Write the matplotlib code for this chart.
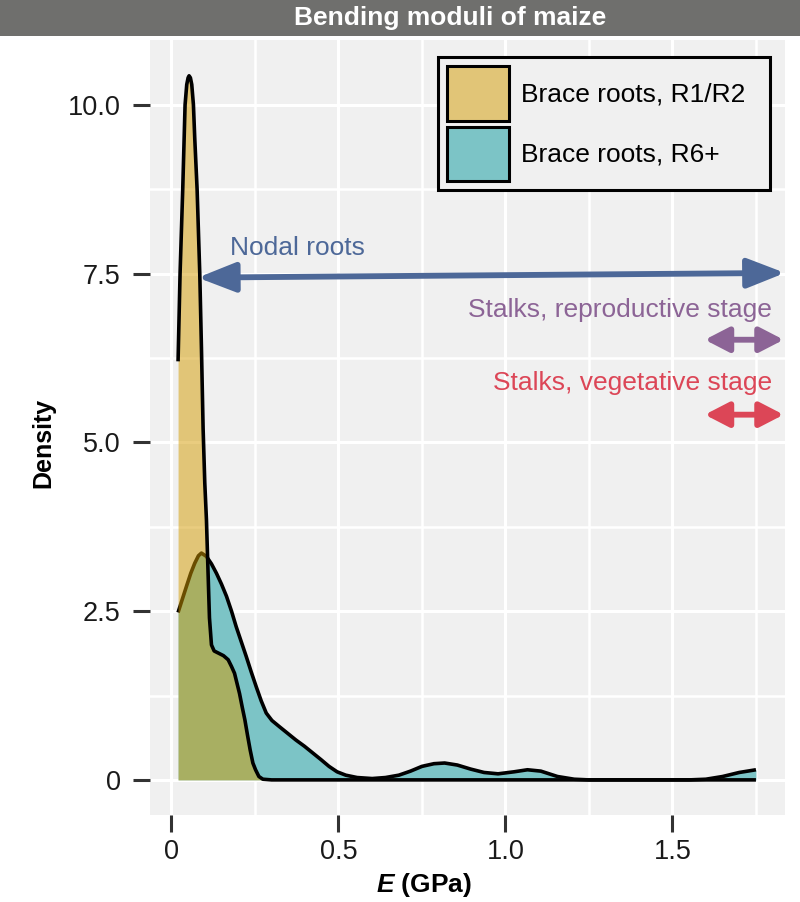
import matplotlib
matplotlib.use("Agg")
import matplotlib.pyplot as plt
from matplotlib.patches import Patch, Rectangle
from matplotlib.colors import to_rgba

plt.rcParams['font.family'] = ['Liberation Sans', 'DejaVu Sans']
plt.rcParams['mathtext.fontset'] = 'custom'
plt.rcParams['mathtext.it'] = 'Liberation Sans:bold:italic'
plt.rcParams['mathtext.rm'] = 'Liberation Sans:bold'

# density curve, brace roots R1/R2
e_r12 = [0.020, 0.026, 0.034, 0.041, 0.046, 0.050, 0.053, 0.057, 0.061, 0.066, 0.070,
         0.077, 0.085, 0.090, 0.095, 0.100, 0.105, 0.109, 0.114, 0.120, 0.128, 0.140,
         0.156, 0.170, 0.180, 0.189, 0.197, 0.204, 0.212, 0.220, 0.228, 0.236, 0.244,
         0.252, 0.262, 0.274, 0.300, 0.600, 1.000, 1.400, 1.750]
d_r12 = [6.20, 7.50, 8.75, 10.0, 10.30, 10.40, 10.43, 10.40, 10.30, 10.00, 9.50,
         8.75, 7.50, 6.40, 5.20, 4.40, 3.85, 3.20, 2.40, 2.00, 1.91, 1.88,
         1.84, 1.78, 1.68, 1.58, 1.42, 1.28, 1.08, 0.89, 0.66, 0.44, 0.25,
         0.15, 0.05, 0.01, 0.0, 0.0, 0.0, 0.0, 0.0]

# density curve, brace roots R6+
e_r6 = [0.020, 0.031, 0.046, 0.058, 0.070, 0.081, 0.090, 0.105, 0.120, 0.135, 0.150,
        0.165, 0.180, 0.194, 0.209, 0.224, 0.239, 0.254, 0.269, 0.284, 0.301, 0.323,
        0.348, 0.373, 0.398, 0.423, 0.448, 0.472, 0.496, 0.522, 0.556, 0.601, 0.641,
        0.681, 0.716, 0.750, 0.786, 0.818, 0.856, 0.896, 0.936, 0.978, 1.026, 1.066,
        1.106, 1.156, 1.206, 1.250, 1.550, 1.600, 1.650, 1.700, 1.750]
d_r6 = [2.48, 2.65, 2.88, 3.06, 3.21, 3.32, 3.36, 3.31, 3.20, 3.06, 2.90,
        2.72, 2.50, 2.27, 2.05, 1.83, 1.60, 1.38, 1.17, 0.99, 0.88, 0.79,
        0.69, 0.59, 0.50, 0.40, 0.30, 0.20, 0.12, 0.07, 0.035, 0.02, 0.035,
        0.07, 0.13, 0.20, 0.24, 0.25, 0.22, 0.16, 0.11, 0.09, 0.12, 0.15,
        0.13, 0.05, 0.01, 0.0, 0.0, 0.01, 0.05, 0.11, 0.15]

legend_labels = ["Brace roots, R1/R2", "Brace roots, R6+"]
x_ticks = [0, 0.5, 1.0, 1.5]
x_ticklabels = ["0", "0.5", "1.0", "1.5"]
y_ticks = [0, 2.5, 5.0, 7.5, 10.0]
y_ticklabels = ["0", "2.5", "5.0", "7.5", "10.0"]

# ranges of the other tissues (arrows)
nodal_x = [0.079, 1.837]
nodal_y = [7.44, 7.51]
repro_x = [1.597, 1.833]
repro_y = 6.52
veg_x = [1.597, 1.833]
veg_y = 5.41

YEL = "#D49B00"
TEAL = "#7CC4C6"
PANEL = "#F0F0F0"
BLUE = "#4D6898"
PURPLE = "#8C6496"
RED = "#DC4657"

fig = plt.figure(figsize=(8, 9.02), dpi=100)
ax = fig.add_axes([150/800, 1-815/902, 635/800, 775/902])
ax.set_facecolor(PANEL)
for s in ax.spines.values():
    s.set_visible(False)

ax.set_xlim(-0.064, 1.837)
ax.set_ylim(-0.52, 10.96)
ax.set_xticks(x_ticks)
ax.set_xticklabels(x_ticklabels)
ax.set_yticks(y_ticks)
ax.set_yticklabels(y_ticklabels)
ax.set_xticks([0.25, 0.75, 1.25, 1.75], minor=True)
ax.set_yticks([1.25, 3.75, 6.25, 8.75], minor=True)
ax.grid(True, which='major', color='white', lw=2.2)
ax.grid(True, which='minor', color='white', lw=1.8)
ax.set_axisbelow(True)
ax.tick_params(which='major', length=12.5, width=2.2, color='#333333',
               labelsize=19.5, labelcolor='#1a1a1a')
ax.tick_params(axis='y', pad=8.5)
ax.tick_params(axis='x', pad=5)
ax.tick_params(which='minor', length=0)

# densities
ax.fill_between(e_r6, 0, d_r6, color=TEAL, lw=0, zorder=2)
ax.plot(e_r6, d_r6, color='black', lw=2.6, zorder=2.1, solid_capstyle='butt')
ax.fill_between(e_r12, 0, d_r12, color=to_rgba(YEL, 0.5), lw=0, zorder=2.2)
ax.plot(e_r12, d_r12, color='black', lw=2.6, zorder=2.3, solid_capstyle='butt')

# arrows
def darrow(x, y, color, head_w, head_l, lw=4.2):
    ax.annotate("", xy=(x[1], y[1]), xytext=(x[0], y[0]),
                arrowprops=dict(arrowstyle=f"<|-|>,head_width={head_w},head_length={head_l}",
                                color=color, lw=lw, shrinkA=0, shrinkB=0, mutation_scale=10),
                annotation_clip=False, zorder=4)

darrow(nodal_x, nodal_y, BLUE, 0.9, 2.3)
darrow(repro_x, [repro_y, repro_y], PURPLE, 0.75, 1.45)
darrow(veg_x, [veg_y, veg_y], RED, 0.75, 1.45)

ax.text(0.175, 7.88, "Nodal roots", color=BLUE, fontsize=19, ha='left', va='center')
ax.text(1.798, 6.96, "Stalks, reproductive stage", color=PURPLE, fontsize=19, ha='right', va='center')
ax.text(1.798, 5.88, "Stalks, vegetative stage", color=RED, fontsize=19, ha='right', va='center')

handles = [Patch(facecolor=to_rgba(YEL, 0.5), edgecolor='black', lw=2.2),
           Patch(facecolor=TEAL, edgecolor='black', lw=2.2)]
leg = ax.legend(handles, legend_labels, loc='upper left',
                bbox_to_anchor=(0.4535, 0.0, 0.5229, 0.978), mode='expand',
                borderaxespad=0, fontsize=19, handlelength=2.35, handleheight=2.8,
                handletextpad=0.45, labelspacing=0.22, borderpad=0.35,
                frameon=True, fancybox=False, facecolor=PANEL, edgecolor='black', framealpha=1)
leg.get_frame().set_linewidth(2.2)

# title strip
fig.patches.append(Rectangle((0, 1-36/902), 1, 36/902, transform=fig.transFigure,
                             facecolor="#6F6F6D", edgecolor='none', zorder=0))
fig.text(450/800, 1-18/902, "Bending moduli of maize", color='white', fontsize=19,
         fontweight='bold', ha='center', va='center')

fig.text(424/800, 1-885/902, r"$\it{E}$ (GPa)", fontsize=19, fontweight='bold',
         ha='center', va='center')
fig.text(43/800, 1-443/902, "Density", fontsize=18, fontweight='bold', rotation=90,
         ha='center', va='center')

fig.savefig("out.png", dpi=100)
